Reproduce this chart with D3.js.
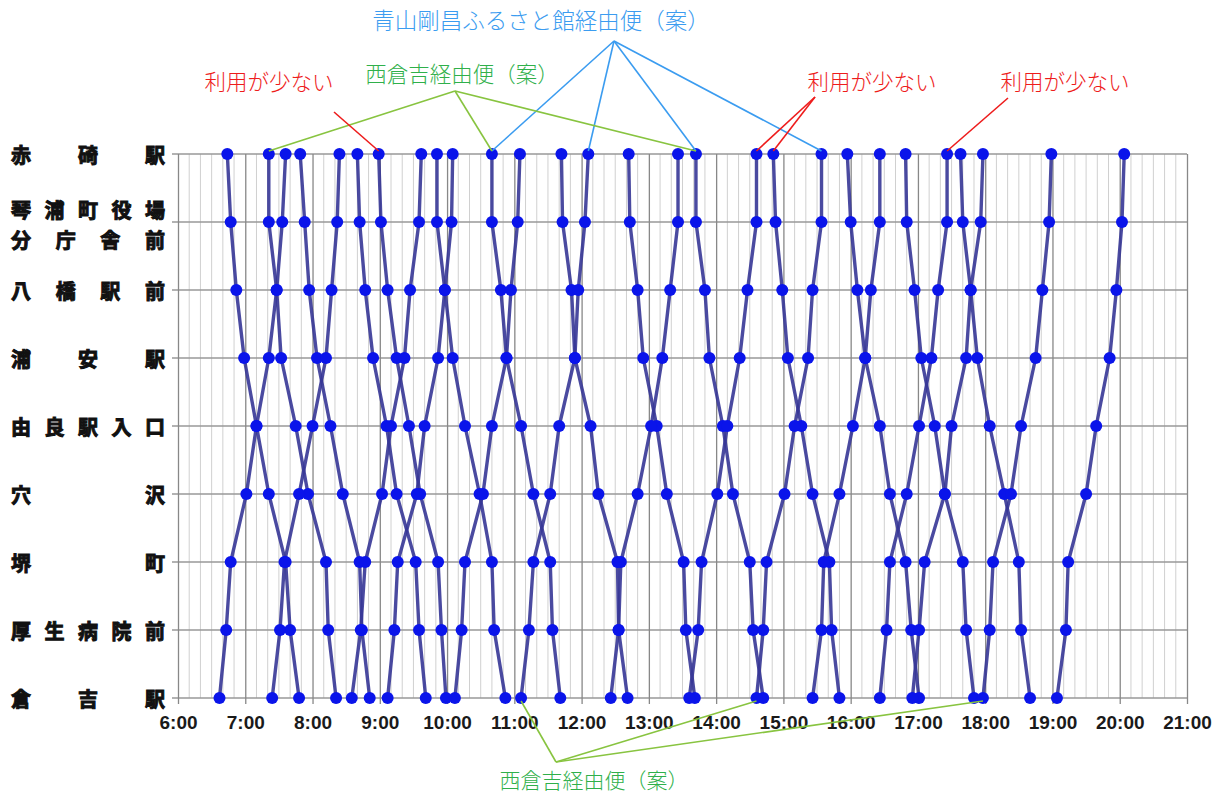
<!DOCTYPE html>
<html>
<head>
<meta charset="utf-8">
<script src="https://cdnjs.cloudflare.com/ajax/libs/d3/7.8.5/d3.min.js"></script>
<style>
  body { margin: 0; background: #fff; }
</style>
</head>
<body>
<div id="chart"></div>
<script>
// stops, top (赤碕) to bottom (倉吉)
const stopLabels = [
  ["赤碕駅"], ["琴浦町役場", "分庁舎前"], ["八橋駅前"], ["浦安駅"], ["由良駅入口"],
  ["穴沢"], ["堺町"], ["厚生病院前"], ["倉吉駅"]
];

const hourTicks = ["6:00","7:00","8:00","9:00","10:00","11:00","12:00","13:00",
  "14:00","15:00","16:00","17:00","18:00","19:00","20:00","21:00"];

// 赤碕 -> 倉吉 trips, time at each stop (stop order as above)
const downTrips = [
  ["6:44","6:47","6:52","6:59","7:10","7:21","7:36","7:40","7:48"],
  ["7:21","7:21","7:28","7:32","7:45","7:56","8:12","8:14","8:21"],
  ["7:49","7:53","7:57","8:04","8:16","8:27","8:42","8:44","8:51"],
  ["8:40","8:42","8:47","8:54","9:06","9:15","9:32","9:35","9:41"],
  ["8:59","9:01","9:07","9:15","9:26","9:36","9:52","9:55","9:59"],
  ["9:51","9:51","9:58","10:05","10:16","10:29","10:40","10:42","10:52"],
  ["10:40","10:40","10:48","10:53","11:06","11:17","11:32","11:34","11:41"],
  ["11:42","11:43","11:51","11:54","12:08","12:15","12:32","12:33","12:41"],
  ["12:42","12:43","12:50","12:55","13:07","13:16","13:31","13:33","13:41"],
  ["13:42","13:42","13:50","13:54","14:06","14:15","14:30","14:33","14:42"],
  ["14:51","14:53","14:59","15:04","15:16","15:26","15:41","15:43","15:50"],
  ["15:57","16:00","16:06","16:13","16:26","16:35","16:49","16:54","17:01"],
  ["16:49","16:50","16:57","17:03","17:15","17:24","17:40","17:43","17:50"],
  ["17:38","17:40","17:47","17:53","18:04","18:17","18:30","18:32","18:40"]
];

// 倉吉 -> 赤碕 trips, listed in the same stop order (赤碕 first)
const upTrips = [
  ["7:36","7:33","7:28","7:21","7:10","7:01","6:47","6:43","6:37"],
  ["8:24","8:22","8:17","8:12","8:00","7:48","7:35","7:31","7:24"],
  ["9:37","9:35","9:27","9:22","9:10","9:02","8:47","8:43","8:35"],
  ["10:05","10:04","9:58","9:52","9:40","9:33","9:16","9:13","9:07"],
  ["11:05","11:03","10:57","10:53","10:40","10:32","10:16","10:13","10:07"],
  ["12:06","12:03","11:57","11:54","11:40","11:32","11:17","11:13","11:06"],
  ["13:26","13:26","13:19","13:12","13:02","12:50","12:35","12:33","12:26"],
  ["14:36","14:36","14:28","14:21","14:10","14:01","13:47","13:44","13:36"],
  ["15:34","15:34","15:26","15:22","15:10","15:01","14:45","14:42","14:36"],
  ["16:26","16:26","16:18","16:13","16:02","15:50","15:36","15:34","15:26"],
  ["17:26","17:26","17:18","17:12","17:01","16:50","16:35","16:32","16:26"],
  ["17:58","17:56","17:47","17:43","17:30","17:24","17:06","17:01","16:55"],
  ["18:59","18:57","18:51","18:45","18:32","18:23","18:07","18:04","17:58"],
  ["20:04","20:02","19:57","19:51","19:39","19:30","19:14","19:12","19:04"]
];

// callouts: the [time, stop index] points they refer to
const aoyamaTargets = [["10:40",0],["12:06",0],["13:42",0],["15:34",0]];
const nishiTopTargets = [["7:21",0],["10:40",0],["13:42",0]];
const nishiBottomTargets = [["11:06",8],["14:36",8],["17:58",8]];
const fewTargets1 = [["8:59",0]];
const fewTargets2 = [["14:36",0],["14:51",0]];
const fewTargets3 = [["17:26",0]];

const width = 1222, height = 796;
const toMin = s => { const p = s.split(":").map(Number); return p[0] * 60 + p[1]; };

const x = d3.scaleLinear().domain([360, 1260]).range([178, 1187]);
const y = d3.scalePoint().domain(d3.range(stopLabels.length)).range([154, 698]);

const svg = d3.select("#chart").append("svg")
  .attr("width", width)
  .attr("height", height)
  .style("font-family", "'Noto Sans CJK JP', 'Noto Sans', sans-serif");

// GRID
const grid = svg.append("g");
grid.selectAll(".minor")
  .data(d3.range(360, 1261, 10).filter(d => d % 60 !== 0))
  .enter().append("line")
  .attr("x1", d => x(d)).attr("x2", d => x(d))
  .attr("y1", y(0)).attr("y2", y(8))
  .attr("stroke", "#d0d0d0").attr("stroke-width", 1);

grid.selectAll(".row")
  .data(d3.range(stopLabels.length))
  .enter().append("line")
  .attr("x1", 172).attr("x2", x(1260))
  .attr("y1", d => y(d)).attr("y2", d => y(d))
  .attr("stroke", "#999").attr("stroke-width", 1.3);

// AXIS
const xAxis = d3.axisBottom(x)
  .tickValues(d3.range(360, 1261, 60))
  .tickFormat((d, i) => hourTicks[i])
  .tickSizeOuter(0)
  .tickPadding(0);

const axisG = svg.append("g")
  .attr("transform", `translate(0,${y(8) + 6})`)
  .call(xAxis);
axisG.select(".domain").remove();
axisG.selectAll(".tick line")
  .attr("y1", 0)
  .attr("y2", -(y(8) - y(0)) - 6)
  .attr("stroke", "#888").attr("stroke-width", 1.3);
axisG.selectAll(".tick text")
  .attr("y", 25)
  .attr("dy", null)
  .style("font-family", "'Liberation Sans', Arial, sans-serif")
  .style("font-size", "19px")
  .style("font-weight", "bold")
  .attr("fill", "#1a1a1a");

// STOP LABELS (justified between left margin and the plot)
const labelG = svg.append("g");
const fs = 20, lx0 = 11, lx1 = 165;
stopLabels.forEach((lines, si) => {
  lines.forEach((str, li) => {
    const chars = Array.from(str);
    const n = chars.length;
    const step = (lx1 - lx0 - fs) / (n - 1);
    const cy = lines.length === 1 ? y(si) : y(si) + (li === 0 ? -13 : 17);
    labelG.selectAll(null)
      .data(chars)
      .enter().append("text")
      .attr("x", (c, i) => lx0 + i * step)
      .attr("y", cy)
      .attr("dominant-baseline", "central")
      .attr("font-size", fs)
      .attr("font-weight", "bold")
      .attr("fill", "#111")
      .attr("stroke", "#111")
      .attr("stroke-width", 1)
      .text(c => c);
  });
});

// TRIPS
const trips = downTrips.concat(upTrips).map(t => t.map((s, i) => ({ t: toMin(s), s: i })));
const line = d3.line().x(d => x(d.t)).y(d => y(d.s));

svg.append("g").selectAll("path")
  .data(trips)
  .enter().append("path")
  .attr("d", line)
  .attr("fill", "none")
  .attr("stroke", "#363696")
  .attr("stroke-width", 3.4)
  .attr("stroke-opacity", 0.9)
  .attr("stroke-linejoin", "round");

svg.append("g").selectAll("circle")
  .data(trips.flat())
  .enter().append("circle")
  .attr("cx", d => x(d.t))
  .attr("cy", d => y(d.s))
  .attr("r", 6)
  .attr("fill", "#0a14ea");

// CALLOUTS
const notes = [
  { text: "青山剛昌ふるさと館経由便（案）", color: "#3b9cf0", lineColor: "#3b9cf0", size: 22.5,
    tx: 541, ty: 19, ax: 614, ay: 41, targets: aoyamaTargets },
  { text: "西倉吉経由便（案）", color: "#2fb04a", lineColor: "#88c440", size: 21.5,
    tx: 462, ty: 72, ax: 455, ay: 91, targets: nishiTopTargets },
  { text: "西倉吉経由便（案）", color: "#2fb04a", lineColor: "#88c440", size: 21,
    tx: 594, ty: 779, ax: 556, ay: 762, targets: nishiBottomTargets },
  { text: "利用が少ない", color: "#ee1c1c", lineColor: "#ee1c1c", size: 21.5,
    tx: 269, ty: 80, ax: 334, ay: 112, targets: fewTargets1 },
  { text: "利用が少ない", color: "#ee1c1c", lineColor: "#ee1c1c", size: 21.5,
    tx: 872, ty: 80, ax: 815, ay: 97, targets: fewTargets2 },
  { text: "利用が少ない", color: "#ee1c1c", lineColor: "#ee1c1c", size: 21.5,
    tx: 1065, ty: 80, ax: 1008, ay: 98, targets: fewTargets3 }
];

const noteG = svg.append("g");
notes.forEach(nt => {
  noteG.selectAll(null)
    .data(nt.targets)
    .enter().append("line")
    .attr("x1", nt.ax).attr("y1", nt.ay)
    .attr("x2", d => x(toMin(d[0])))
    .attr("y2", d => y(d[1]) + (d[1] === 0 ? -3 : 3))
    .attr("stroke", nt.lineColor)
    .attr("stroke-width", 1.6);
  noteG.append("text")
    .attr("x", nt.tx).attr("y", nt.ty)
    .attr("text-anchor", "middle")
    .attr("dominant-baseline", "central")
    .attr("font-size", nt.size)
    .attr("font-weight", 300)
    .attr("fill", nt.color)
    .text(nt.text);
});
</script>
</body>
</html>
